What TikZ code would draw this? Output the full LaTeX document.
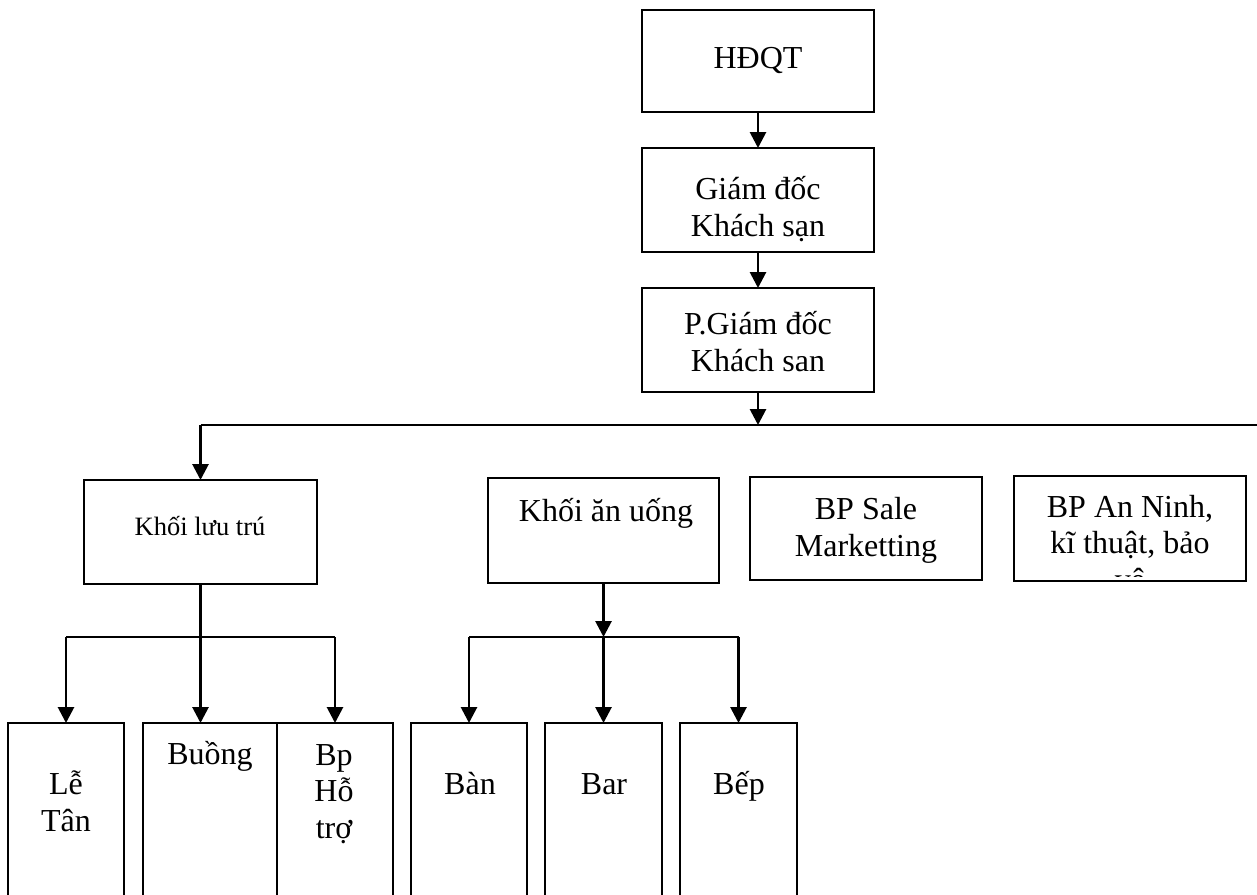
\documentclass[tikz,border=0pt]{standalone}
\usepackage{fontspec}
\setmainfont{Liberation Serif}
\usetikzlibrary{arrows.meta}
\begin{document}
\begin{tikzpicture}[x=1pt,y=-1pt,
  box/.style={draw,line width=2.8pt,inner sep=0pt,outer sep=0pt,anchor=north west},
  conn/.style={line width=2.8pt},
  arr/.style={conn,-{Triangle[length=16pt,width=16pt]}},
  lbl/.style={anchor=base,inner sep=0pt,font=\fontsize{32}{36.5}\selectfont,align=center},
  lbls/.style={anchor=base,inner sep=0pt,font=\fontsize{26.5}{30}\selectfont,align=center}]
\useasboundingbox (0,0) rectangle (1257,894);
\clip (0,0) rectangle (1257,894);
% top chain
\node[box,minimum width=232pt,minimum height=102pt] (hdqt) at (642,10) {};
\node[box,minimum width=232pt,minimum height=104pt] (gd) at (642,148) {};
\node[box,minimum width=232pt,minimum height=104pt] (pgd) at (642,288) {};
\node[lbl] (thdqt) at (758,68) {HĐQT};
\node[lbl] (tgd) at (758,236) {Giám đốc\\Khách sạn};
\node[lbl] (tpgd) at (758,371) {P.Giám đốc\\Khách san};
% second level
\node[box,minimum width=233pt,minimum height=104pt] (kluu) at (84,480) {};
\node[box,minimum width=231pt,minimum height=105pt] (kan) at (488,478) {};
\node[box,minimum width=232pt,minimum height=103pt] (sale) at (750,477) {};
\node[box,minimum width=232pt,minimum height=105pt] (an) at (1014,476) {};
\node[lbls] (tkluu) at (200,535) {Khối lưu trú};
\node[lbl] (tkan) at (606,521) {Khối ăn uống};
\node[lbl] (tsale) at (866,556) {BP Sale\\Marketting};
\begin{scope}
\clip (1014,476) rectangle (1246,576);
\node[lbl] (tan) at (1130,590) {BP An Ninh,\\kĩ thuật, bảo\\vệ};
\end{scope}
% third level
\node[box,minimum width=116pt,minimum height=200pt] (le) at (8,723) {};
\node[box,minimum width=134pt,minimum height=200pt] (buong) at (143,723) {};
\node[box,minimum width=116pt,minimum height=200pt] (bp) at (277,723) {};
\node[box,minimum width=116pt,minimum height=200pt] (ban) at (411,723) {};
\node[box,minimum width=117pt,minimum height=200pt] (bar) at (545,723) {};
\node[box,minimum width=117pt,minimum height=200pt] (bep) at (680,723) {};
\node[lbl] (tle) at (66,831) {Lễ\\Tân};
\node[lbl] (tbuong) at (210,764) {Buồng};
\node[lbl] (tbp) at (334,838) {Bp\\Hỗ\\trợ};
\node[lbl] (tban) at (470,794) {Bàn};
\node[lbl] (tbar) at (604,794) {Bar};
\node[lbl] (tbep) at (739,794) {Bếp};
% connectors
\draw[arr] (hdqt.south) -- (gd.north);
\draw[arr] (gd.south) -- (pgd.north);
\coordinate (row1) at (0,425);
\coordinate (row2) at (0,637);
\coordinate (bus) at (pgd.south |- row1);
\coordinate (busend) at (1262,425);
\draw[arr] (pgd.south) -- (bus);
\draw[conn] (bus -| kluu.north) -- (busend);
\draw[arr] (bus -| kluu.north) -- (kluu.north);
% khoi luu tru branch
\coordinate (s1) at (kluu.south |- row2);
\draw[conn] (kluu.south) -- (s1);
\draw[conn] (s1 -| le.north) -- (s1 -| bp.north);
\draw[arr] (s1 -| le.north) -- (le.north);
\draw[arr] (s1) -- (s1 |- buong.north);
\draw[arr] (s1 -| bp.north) -- (bp.north);
% khoi an uong branch
\coordinate (s2) at (kan.south |- row2);
\draw[arr] (kan.south) -- (s2);
\draw[conn] (s2 -| ban.north) -- (s2 -| bep.north);
\draw[arr] (s2 -| ban.north) -- (ban.north);
\draw[arr] (s2) -- (s2 |- bar.north);
\draw[arr] (s2 -| bep.north) -- (bep.north);
\end{tikzpicture}
\end{document}
